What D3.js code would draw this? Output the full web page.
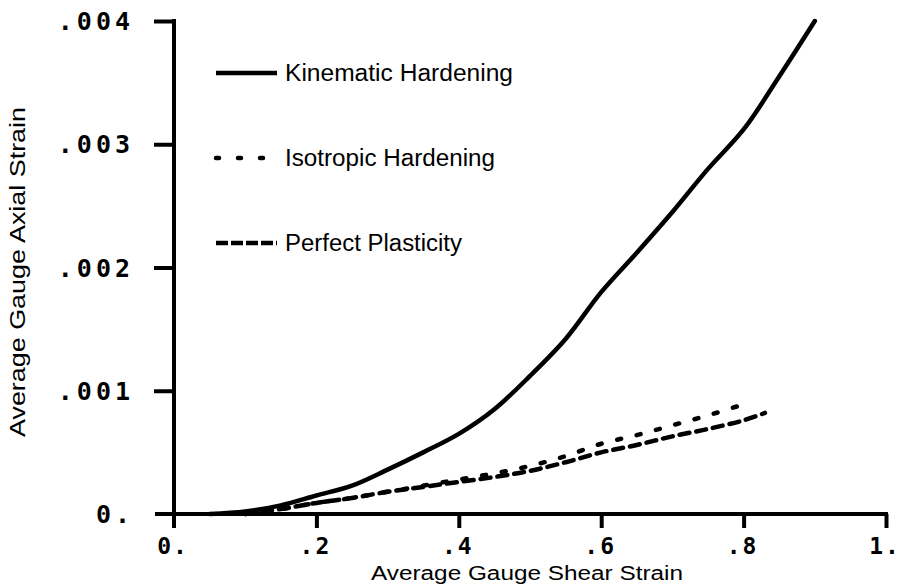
<!DOCTYPE html>
<html>
<head>
<meta charset="utf-8">
<script src="https://cdn.jsdelivr.net/npm/d3@7"></script>
<style>
  body { margin: 0; background: #fff; }
  svg { display: block; }
</style>
</head>
<body>
<svg id="chart" width="900" height="585"></svg>
<script>
// data (axial strain in units of 1)
const kinematicX = [0.05, 0.1, 0.15, 0.2, 0.25, 0.3, 0.35, 0.4, 0.45, 0.5, 0.55, 0.6, 0.65, 0.7, 0.75, 0.8, 0.85, 0.9];
const kinematicY = [0, 0.00002, 0.00007, 0.00015, 0.00023, 0.00036, 0.0005, 0.00065, 0.00085, 0.00112, 0.00142, 0.0018, 0.00212, 0.00245, 0.0028, 0.00312, 0.00355, 0.004];

const isotropicX = [0.1, 0.15, 0.2, 0.25, 0.3, 0.35, 0.4, 0.45, 0.5, 0.55, 0.6, 0.65, 0.7, 0.75, 0.8];
const isotropicY = [0, 0.00004, 0.00009, 0.00013, 0.00018, 0.00023, 0.00028, 0.00033, 0.00039, 0.00047, 0.00057, 0.00064, 0.00072, 0.0008, 0.00089];

const perfectX = [0.1, 0.15, 0.2, 0.25, 0.3, 0.35, 0.4, 0.45, 0.5, 0.55, 0.6, 0.65, 0.7, 0.75, 0.8, 0.83];
const perfectY = [0, 0.00004, 0.00009, 0.00013, 0.00018, 0.00022, 0.00026, 0.0003, 0.00035, 0.00042, 0.0005, 0.00056, 0.00063, 0.00069, 0.00076, 0.00082];

const xTicks = [0, 0.2, 0.4, 0.6, 0.8, 1];
const xTickLabels = ["0.", ".2", ".4", ".6", ".8", "1."];
const yTicks = [0, 0.001, 0.002, 0.003, 0.004];
const yTickLabels = ["0.", ".001", ".002", ".003", ".004"];

const seriesNames = ["Kinematic Hardening", "Isotropic Hardening", "Perfect Plasticity"];

const svg = d3.select("#chart");

const x = d3.scaleLinear().domain([0, 1]).range([174, 886]);
const y = d3.scaleLinear().domain([0, 0.004]).range([514, 21]);

const ink = "#000";
const monoFont = "'DejaVu Sans Mono', 'Liberation Mono', monospace";
const sansFont = "'Liberation Sans', Arial, sans-serif";

// axes: ticks from d3, the long lines added so they overshoot like the original
const xAxis = d3.axisBottom(x).tickValues(xTicks.slice(1)).tickSize(14).tickFormat("");
const gx = svg.append("g")
    .attr("transform", "translate(0," + y(0) + ")")
    .call(xAxis);
gx.select(".domain").remove();
gx.selectAll(".tick line").attr("stroke", ink).attr("stroke-width", 4);
gx.append("line")
    .attr("x1", x(0) - 19).attr("x2", x(1) + 2)
    .attr("stroke", ink).attr("stroke-width", 4);

const yAxis = d3.axisLeft(y).tickValues(yTicks.slice(1)).tickSize(20).tickFormat("");
const gy = svg.append("g")
    .attr("transform", "translate(" + x(0) + ",0)")
    .call(yAxis);
gy.select(".domain").remove();
gy.selectAll(".tick line").attr("stroke", ink).attr("stroke-width", 4);
gy.append("line")
    .attr("y1", y(0.004) - 2).attr("y2", y(0) + 14)
    .attr("stroke", ink).attr("stroke-width", 4);

// tick labels
svg.append("g").selectAll("text")
    .data(yTicks)
    .join("text")
    .attr("x", 134)
    .attr("y", d => y(d) + 9)
    .attr("text-anchor", "end")
    .attr("font-family", monoFont)
    .attr("font-size", 25)
    .attr("font-weight", "bold")
    .attr("letter-spacing", 4)
    .attr("fill", ink)
    .text((d, i) => yTickLabels[i]);

svg.append("g").selectAll("text")
    .data(xTicks)
    .join("text")
    .attr("x", d => x(d) - 1)
    .attr("y", 554)
    .attr("text-anchor", "middle")
    .attr("font-family", monoFont)
    .attr("font-size", 23)
    .attr("font-weight", "bold")
    .attr("letter-spacing", 2)
    .attr("fill", ink)
    .text((d, i) => xTickLabels[i]);

// axis titles
svg.append("text")
    .attr("x", 527)
    .attr("y", 580)
    .attr("text-anchor", "middle")
    .attr("font-family", sansFont)
    .attr("font-size", 20)
    .attr("textLength", 312)
    .attr("lengthAdjust", "spacingAndGlyphs")
    .attr("fill", ink)
    .text("Average Gauge Shear Strain");

svg.append("text")
    .attr("transform", "translate(25,272) rotate(-90)")
    .attr("text-anchor", "middle")
    .attr("font-family", sansFont)
    .attr("font-size", 22)
    .attr("textLength", 330)
    .attr("lengthAdjust", "spacingAndGlyphs")
    .attr("fill", ink)
    .text("Average Gauge Axial Strain");

// curves
const line = d3.line()
    .x(d => x(d[0]))
    .y(d => y(d[1]))
    .curve(d3.curveCatmullRom);

svg.append("path")
    .datum(d3.zip(kinematicX, kinematicY))
    .attr("d", line)
    .attr("fill", "none")
    .attr("stroke", ink)
    .attr("stroke-width", 4.5)
    .attr("stroke-linecap", "round");

svg.append("path")
    .datum(d3.zip(isotropicX, isotropicY))
    .attr("d", line)
    .attr("fill", "none")
    .attr("stroke", ink)
    .attr("stroke-width", 4.5)
    .attr("stroke-dasharray", "4,16")
    .attr("stroke-linecap", "round");

svg.append("path")
    .datum(d3.zip(perfectX, perfectY))
    .attr("d", line)
    .attr("fill", "none")
    .attr("stroke", ink)
    .attr("stroke-width", 4.5)
    .attr("stroke-dasharray", "10,7")
    .attr("stroke-linecap", "round");

// legend
const legendY = [73, 158, 243];
const legendDash = [null, "3,19", "12,3"];
const legendWidth = [228, 210, 177];
const legend = svg.append("g");
seriesNames.forEach((name, i) => {
    legend.append("line")
        .attr("x1", 216).attr("x2", 277)
        .attr("y1", legendY[i]).attr("y2", legendY[i])
        .attr("stroke", ink)
        .attr("stroke-width", 4.5)
        .attr("stroke-dasharray", legendDash[i])
        .attr("stroke-linecap", i === 1 ? "round" : "butt");
    legend.append("text")
        .attr("x", 285)
        .attr("y", legendY[i] + 8)
        .attr("font-family", sansFont)
        .attr("font-size", 23)
        .attr("textLength", legendWidth[i])
        .attr("lengthAdjust", "spacingAndGlyphs")
        .attr("fill", ink)
        .text(name);
});
</script>
</body>
</html>
